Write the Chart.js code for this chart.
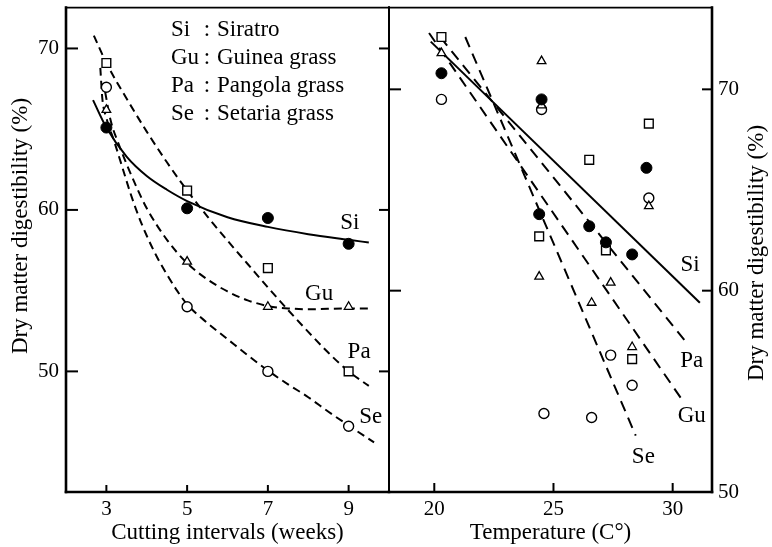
<!DOCTYPE html>
<html>
<head>
<meta charset="utf-8">
<script src="https://cdn.jsdelivr.net/npm/chart.js@4.4.1/dist/chart.umd.min.js"></script>
<style>
  html, body { margin: 0; padding: 0; background: #fff; }
  #wrap { position: relative; width: 772px; height: 547px; overflow: hidden; background: #fff; }
  #c1 { position: absolute; left: 0; top: 0; }
  #c2 { position: absolute; left: 378px; top: 0; }
</style>
</head>
<body>
<div id="wrap">
  <canvas id="c1" width="400" height="547"></canvas>
  <canvas id="c2" width="394" height="547"></canvas>
</div>
<script>
// ---------------- data: left panel (cutting intervals) ----------------
const weeks = [3, 5, 7, 9];
const digSiWeeks = [65.1, 60.1, 59.5, 57.9];
const digGuWeeks = [66.2, 56.8, 54.0, 54.0];
const digPaWeeks = [69.1, 61.2, 56.4, 50.0];
const digSeWeeks = [67.6, 54.0, 50.0, 46.6];

// fitted curves
const siCurveX = [2.67, 3.0, 3.5, 4.0, 4.5, 5.0, 6.0, 7.0, 8.0, 9.0, 9.5];
const siCurveY = [66.8, 65.1, 63.3, 62.1, 61.25, 60.55, 59.55, 58.95, 58.5, 58.15, 57.98];
const guCurveX = [2.97, 3.1, 3.3, 3.5, 3.75, 4.0, 4.5, 5.0, 5.5, 6.0, 6.5, 7.0, 7.5, 8.0, 9.0, 9.5];
const guCurveY = [67.3, 65.6, 64.1, 62.85, 61.4, 60.1, 58.15, 56.7, 55.7, 54.95, 54.4, 54.05, 53.9, 53.85, 53.9, 53.9];
const paCurveX = [2.69, 3.0, 3.5, 4.0, 4.5, 5.0, 5.5, 6.0, 6.5, 7.0, 7.5, 8.0, 8.5, 9.0, 9.5];
const paCurveY = [70.8, 69.1, 66.9, 64.85, 62.95, 61.2, 59.6, 58.1, 56.65, 55.2, 53.8, 52.45, 51.15, 50.0, 49.1];
const seCurveX = [2.85, 2.9, 3.0, 3.2, 3.4, 3.6, 3.8, 4.0, 4.25, 4.5, 4.75, 5.0, 5.5, 6.0, 6.5, 7.0, 7.5, 8.0, 8.5, 9.0, 9.63];
const seCurveY = [68.8, 66.9, 65.7, 64.2, 62.6, 61.0, 59.6, 58.4, 57.1, 56.0, 55.0, 54.15, 53.0, 52.0, 51.0, 50.05, 49.2, 48.4, 47.5, 46.65, 45.6];

// ---------------- data: right panel (temperature) ----------------
const tempSi = [20.3, 24.5, 24.4, 26.5, 27.2, 28.3, 28.9];
const digSiTemp = [70.8, 69.5, 63.8, 63.2, 62.4, 61.8, 66.1];
const tempPa = [20.3, 24.4, 26.5, 27.2, 28.3, 29.0];
const digPaTemp = [72.6, 62.7, 66.5, 62.0, 56.6, 68.3];
const tempGu = [20.3, 24.5, 24.5, 24.4, 26.6, 27.4, 28.3, 29.0];
const digGuTemp = [71.8, 71.4, 69.2, 60.7, 59.4, 60.4, 57.2, 64.2];
const tempSe = [20.3, 24.5, 24.6, 26.6, 27.4, 28.3, 29.0];
const digSeTemp = [69.5, 69.0, 53.9, 53.7, 56.8, 55.3, 64.6];

// regression lines, traced end points
const siLineT = [19.85, 31.14]; const siLineY = [72.37, 59.4];
const paLineT = [20.25, 30.66]; const paLineY = [72.6, 57.3];
const guLineT = [19.78, 30.5];  const guLineY = [72.8, 54.4];
const seLineT = [21.3, 28.45];  const seLineY = [72.6, 52.8];

// ticks
const weekTicks = [3, 5, 7, 9];
const tempTicks = [20, 25, 30];
const leftDigTicks = [50, 60, 70];
const rightDigTicks = [50, 60, 70];

// text
const legendAbbr = ['Si', 'Gu', 'Pa', 'Se'];
const legendName = ['Siratro', 'Guinea grass', 'Pangola grass', 'Setaria grass'];
const yTitle = 'Dry matter digestibility (%)';

// ---------------- helpers ----------------
const FONT = "'Liberation Serif', 'Times New Roman', serif";
const pts = (xs, ys) => xs.map((x, i) => ({ x: x, y: ys[i] }));

function seg(ctx, x1, y1, x2, y2, w) {
  ctx.lineWidth = w;
  ctx.beginPath(); ctx.moveTo(x1, y1); ctx.lineTo(x2, y2); ctx.stroke();
}

const markerSi = { pointStyle: 'circle', pointRadius: 5.5, backgroundColor: '#000', borderColor: '#000', borderWidth: 1 };
const markerGu = { pointStyle: 'triangle', pointRadius: 5, backgroundColor: '#fff', borderColor: '#000', borderWidth: 1.3 };
const markerPa = { pointStyle: 'rect', pointRadius: 6.2, backgroundColor: '#fff', borderColor: '#000', borderWidth: 1.4 };
const markerSe = { pointStyle: 'circle', pointRadius: 5, backgroundColor: '#fff', borderColor: '#000', borderWidth: 1.4 };

function curve(data, dash, interp) {
  return {
    data: data, showLine: true, pointRadius: 0, borderColor: '#000', borderWidth: 2,
    borderDash: dash, cubicInterpolationMode: interp ? 'monotone' : 'default', tension: 0, fill: false
  };
}

const tickFont = { family: FONT, size: 21 };
const titleFont = { family: FONT, size: 23 };

// ---------------- left chart ----------------
const leftLabels = [['Si', 9.03, 59.2], ['Gu', 8.27, 54.8], ['Pa', 9.26, 51.2], ['Se', 9.55, 47.2]];
const decoLeft = {
  id: 'decoLeft',
  afterDraw(chart) {
    const { ctx, chartArea: a, scales: { x, y } } = chart;
    ctx.save();
    ctx.strokeStyle = '#000'; ctx.lineCap = 'square';
    seg(ctx, a.left, a.top, a.left, a.bottom, 2.6);
    seg(ctx, a.left, a.bottom, a.right, a.bottom, 2.6);
    seg(ctx, a.left, a.top, a.right, a.top, 1.8);
    seg(ctx, a.right, a.top, a.right, a.bottom, 2);
    ctx.lineCap = 'butt';
    y.ticks.forEach(t => {
      const py = y.getPixelForValue(t.value);
      seg(ctx, a.left, py, a.left + 12, py, 2);
      seg(ctx, a.right, py, a.right - 10, py, 2);
    });
    x.ticks.forEach(t => {
      const px = x.getPixelForValue(t.value);
      seg(ctx, px, a.bottom, px, a.bottom - 7, 2);
    });
    ctx.fillStyle = '#000';
    ctx.font = '23px ' + FONT;
    ctx.textBaseline = 'middle';
    const ly = [29.5, 57.8, 86, 114.3];
    legendAbbr.forEach((ab, i) => {
      ctx.textAlign = 'left'; ctx.fillText(ab, 171, ly[i]);
      ctx.textAlign = 'center'; ctx.fillText(':', 207, ly[i]);
      ctx.textAlign = 'left'; ctx.fillText(legendName[i], 217, ly[i]);
    });
    ctx.textAlign = 'center';
    leftLabels.forEach(l => ctx.fillText(l[0], x.getPixelForValue(l[1]), y.getPixelForValue(l[2])));
    ctx.save();
    ctx.translate(21, 226); ctx.rotate(-Math.PI / 2);
    ctx.fillText(yTitle, 0, 0);
    ctx.restore();
    ctx.restore();
  }
};

new Chart(document.getElementById('c1'), {
  type: 'scatter',
  data: {
    datasets: [
      Object.assign({ data: pts(weeks, digSiWeeks) }, markerSi),
      Object.assign({ data: pts(weeks, digGuWeeks) }, markerGu),
      Object.assign({ data: pts(weeks, digPaWeeks) }, markerPa),
      Object.assign({ data: pts(weeks, digSeWeeks) }, markerSe),
      curve(pts(siCurveX, siCurveY), [], true),
      curve(pts(guCurveX, guCurveY), [8, 5], true),
      curve(pts(paCurveX, paCurveY), [8, 5], true),
      curve(pts(seCurveX, seCurveY), [8, 5], true)
    ]
  },
  options: {
    responsive: false, animation: false, events: [],
    layout: { padding: { left: 0, right: 11, top: 6, bottom: 0 } },
    plugins: { legend: { display: false }, tooltip: { enabled: false } },
    scales: {
      x: {
        type: 'linear', position: 'bottom', min: 2, max: 10,
        afterBuildTicks: s => { s.ticks = weekTicks.map(v => ({ value: v })); },
        afterFit: s => { s.height = 55; s.paddingLeft = 0; s.paddingRight = 0; },
        grid: { display: false, drawTicks: false }, border: { display: false },
        ticks: { font: tickFont, color: '#000', padding: 5, maxRotation: 0, autoSkip: false },
        title: { display: true, text: 'Cutting intervals (weeks)', font: titleFont, color: '#000', padding: { top: 0, bottom: 0 } }
      },
      y: {
        type: 'linear', position: 'left', min: 42.53, max: 72.53,
        afterBuildTicks: s => { s.ticks = leftDigTicks.map(v => ({ value: v })); },
        afterFit: s => { s.width = 66; s.paddingTop = 0; s.paddingBottom = 0; },
        grid: { display: false, drawTicks: false }, border: { display: false },
        ticks: { font: tickFont, color: '#000', padding: 7, autoSkip: false }
      }
    }
  },
  plugins: [decoLeft]
});

// ---------------- right chart ----------------
const rightLabels = [['Si', 30.73, 61.3], ['Pa', 30.8, 56.5], ['Gu', 30.8, 53.8], ['Se', 28.77, 51.76]];
const decoRight = {
  id: 'decoRight',
  afterDraw(chart) {
    const { ctx, chartArea: a, scales: { x, y } } = chart;
    ctx.save();
    ctx.strokeStyle = '#000'; ctx.lineCap = 'square';
    seg(ctx, a.left, a.top, a.left, a.bottom, 2);
    seg(ctx, a.left, a.bottom, a.right, a.bottom, 2.6);
    seg(ctx, a.left, a.top, a.right, a.top, 1.8);
    seg(ctx, a.right, a.top, a.right, a.bottom, 2.6);
    ctx.lineCap = 'butt';
    y.ticks.forEach(t => {
      if (t.value <= y.min) return;
      const py = y.getPixelForValue(t.value);
      seg(ctx, a.left, py, a.left + 12, py, 2);
      seg(ctx, a.right, py, a.right - 10, py, 2);
    });
    x.ticks.forEach(t => {
      const px = x.getPixelForValue(t.value);
      seg(ctx, px, a.bottom, px, a.bottom - 9, 2);
    });
    ctx.fillStyle = '#000';
    ctx.font = '23px ' + FONT;
    ctx.textBaseline = 'middle';
    ctx.textAlign = 'center';
    rightLabels.forEach(l => ctx.fillText(l[0], x.getPixelForValue(l[1]), y.getPixelForValue(l[2])));
    ctx.save();
    ctx.translate(a.right + 45, 253); ctx.rotate(-Math.PI / 2);
    ctx.fillText(yTitle, 0, 0);
    ctx.restore();
    ctx.restore();
  }
};

new Chart(document.getElementById('c2'), {
  type: 'scatter',
  data: {
    datasets: [
      Object.assign({ data: pts(tempSi, digSiTemp) }, markerSi),
      Object.assign({ data: pts(tempGu, digGuTemp) }, markerGu),
      Object.assign({ data: pts(tempPa, digPaTemp) }, markerPa),
      Object.assign({ data: pts(tempSe, digSeTemp) }, markerSe),
      curve(pts(siLineT, siLineY), [], false),
      curve(pts(paLineT, paLineY), [11, 7], false),
      curve(pts(guLineT, guLineY), [11, 7], false),
      curve(pts(seLineT, seLineY), [11, 7], false)
    ]
  },
  options: {
    responsive: false, animation: false, events: [],
    layout: { padding: { left: 11, right: 0, top: 6, bottom: 0 } },
    plugins: { legend: { display: false }, tooltip: { enabled: false } },
    scales: {
      x: {
        type: 'linear', position: 'bottom', min: 18.1, max: 31.65,
        afterBuildTicks: s => { s.ticks = tempTicks.map(v => ({ value: v })); },
        afterFit: s => { s.height = 55; s.paddingLeft = 0; s.paddingRight = 0; },
        grid: { display: false, drawTicks: false }, border: { display: false },
        ticks: { font: tickFont, color: '#000', padding: 5, maxRotation: 0, autoSkip: false },
        title: { display: true, text: 'Temperature (C°)', font: titleFont, color: '#000', padding: { top: 0, bottom: 0 } }
      },
      y: {
        type: 'linear', position: 'right', min: 50, max: 74.06,
        afterBuildTicks: s => { s.ticks = rightDigTicks.map(v => ({ value: v })); },
        afterFit: s => { s.width = 60; s.paddingTop = 0; s.paddingBottom = 0; },
        grid: { display: false, drawTicks: false }, border: { display: false },
        ticks: { font: tickFont, color: '#000', padding: 6, autoSkip: false }
      }
    }
  },
  plugins: [decoRight]
});
</script>
</body>
</html>
